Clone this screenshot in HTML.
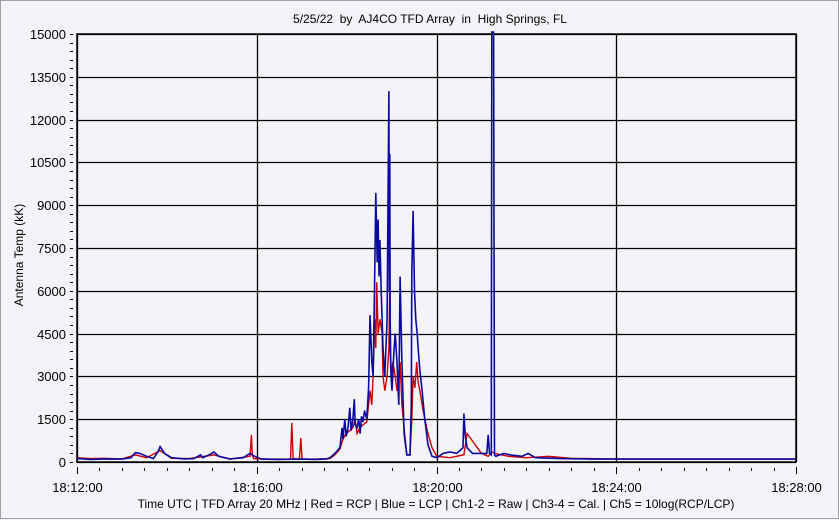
<!DOCTYPE html>
<html><head><meta charset="utf-8"><style>
html,body{margin:0;padding:0;background:#f4f4f8;}
#wrap{position:relative;width:839px;height:520px;overflow:hidden;background:#f4f4f8;}
svg{position:absolute;left:0;top:0;font-family:"Liberation Sans",sans-serif;}
text{white-space:pre;}
</style></head><body>
<div id="wrap">
<svg id="chart" width="839" height="520">
<rect x="0.5" y="0.5" width="838" height="518" fill="#f4f4f8" stroke="#a0a0a0"/>
<text x="430" y="23" font-size="12" text-anchor="middle" fill="#000">5/25/22  by  AJ4CO TFD Array  in  High Springs, FL</text>
<text transform="translate(23,255) rotate(-90)" font-size="12" text-anchor="middle" fill="#000">Antenna Temp (kK)</text>
<text x="436" y="508" font-size="12" text-anchor="middle" fill="#000">Time UTC | TFD Array 20 MHz | Red = RCP | Blue = LCP | Ch1-2 = Raw | Ch3-4 = Cal. | Ch5 = 10log(RCP/LCP)</text>
<g id="grid"></g><g id="series"></g><g id="axes"></g>
</svg>
</div>
<script>
const yTicks=[0,1500,3000,4500,6000,7500,9000,10500,12000,13500,15000];
const xTickLabels=["18:12:00","18:16:00","18:20:00","18:24:00","18:28:00"];
const xTickMinutes=[0,4,8,12,16];
const blueT=[0,0.3,0.6,1.0,1.2,1.3,1.4,1.55,1.7,1.8,
1.85,1.95,2.1,2.4,2.6,2.75,2.8,2.95,3.05,3.15,
3.4,3.7,3.85,3.95,4.1,4.5,5.0,5.3,5.55,5.63,
5.74,5.85,5.9,5.92,5.96,5.99,6.03,6.07,6.1,6.14,
6.17,6.19,6.23,6.27,6.30,6.33,6.36,6.40,6.45,6.49,
6.52,6.56,6.59,6.62,6.65,6.68,6.70,6.72,6.74,6.77,
6.79,6.81,6.85,6.90,6.94,6.95,6.96,6.97,6.99,7.01,
7.05,7.08,7.12,7.16,7.19,7.23,7.28,7.34,7.41,7.44,
7.45,7.48,7.51,7.54,7.57,7.59,7.63,7.68,7.74,7.81,
7.90,8.01,8.15,8.30,8.45,8.59,8.61,8.64,8.68,8.8,
8.97,9.12,9.15,9.18,9.22,9.23,9.27,9.29,9.32,9.5,
9.64,9.9,10.04,10.2,10.75,11.5,12,13,14,15,16];
const blueV=[120,90,110,100,150,330,300,200,120,350,
540,300,150,110,120,250,150,260,350,200,
110,150,300,200,100,90,100,90,110,150,
300,500,1200,800,1500,900,1200,1900,1100,1500,
2200,1300,1200,1500,1000,1600,1400,1800,1500,2600,
5150,3500,3000,6000,9430,7000,8500,6500,7780,6000,
5000,4000,3000,5000,13000,6000,10800,4000,3000,2500,
3800,4500,3500,2000,6500,3500,1000,250,250,2000,
6600,8800,6000,5000,4500,4000,3200,2500,1500,600,
200,150,300,350,300,500,1700,900,500,300,
300,300,950,300,250,15500,15500,250,200,300,
250,200,300,150,120,100,100,100,100,100,100];
const redT=[0,0.3,0.6,1.0,1.3,1.55,1.85,2.1,2.5,3.05,3.4,3.85,3.88,3.9,3.93,4.2,4.75,4.78,4.81,4.95,4.98,5.01,5.3,5.63,5.74,5.85,5.92,5.99,6.07,6.14,6.19,6.23,6.30,6.36,6.45,6.52,6.56,6.59,6.63,6.65,6.67,6.70,6.74,6.79,6.81,6.85,6.90,6.94,6.96,6.99,7.03,7.08,7.12,7.16,7.19,7.23,7.28,7.34,7.41,7.45,7.48,7.52,7.56,7.59,7.63,7.68,7.74,7.81,7.90,8.01,8.3,8.59,8.61,8.68,9.0,9.15,9.23,9.3,9.6,10.0,10.5,11,12,13,14,15,16];
const redV=[150,120,130,110,250,150,400,130,120,250,100,200,950,250,120,100,100,1370,120,100,840,100,100,120,250,450,800,1000,1100,1200,1500,1000,1200,1300,1400,2500,2000,3000,5000,4000,6300,4500,5000,4500,3000,2500,3000,4000,6200,3000,3500,3000,2500,3000,3500,2000,1200,250,250,1500,3000,2600,3500,2800,2500,2000,1500,1000,500,200,150,250,250,1000,300,200,350,300,200,150,200,130,110,100,100,100,100];
const X0=77,X1=796,Y0=462,Y1=34,TMAX=16,VMAX=15000;
const xs=t=>X0+(t/TMAX)*(X1-X0);
const ys=v=>Math.max(Y1-2,Y0-(v/VMAX)*(Y0-Y1));
const NS="http://www.w3.org/2000/svg";
const grid=document.getElementById('grid'),axes=document.getElementById('axes'),series=document.getElementById('series');
function mk(tag,attrs,parent){const e=document.createElementNS(NS,tag);for(const k in attrs)e.setAttribute(k,attrs[k]);parent.appendChild(e);return e;}
const bg=mk('rect',{x:X0,y:Y1,width:X1-X0,height:Y0-Y1,fill:'#f4f4f8',stroke:'#000','stroke-width':1.5},grid);


yTicks.forEach(v=>{
  const y=Math.round(ys(v))+0.5;
  const l=mk('line',{x1:X0,x2:X1,y1:y,y2:y,stroke:'#000','stroke-width':1.3},grid);
  
  
  const t=mk('text',{x:66,y:y+4.5,'font-size':13,'text-anchor':'end',fill:'#000'},axes);
  t.textContent=v;
  
  
});
for(let v=0;v<=VMAX;v+=300){
  const y=Math.round(ys(v))+0.5;
  const m=mk('line',{x1:70,x2:73,y1:y,y2:y,stroke:'#000','stroke-width':1},axes);
  
  
}
xTickMinutes.forEach((m,i)=>{
  const x=Math.round(xs(m))+0.5;
  const l=mk('line',{x1:x,x2:x,y1:Y1,y2:Y0,stroke:'#000','stroke-width':1.3},grid);
  
  
  const t=mk('text',{x:x,y:492,'font-size':13,'text-anchor':'middle',fill:'#000'},axes);
  t.textContent=xTickLabels[i];
  
  
});
for(let m=0;m<=TMAX;m+=0.5){
  const x=Math.round(xs(m))+0.5;const major=(m%4===0);
  const tk=mk('line',{x1:x,x2:x,y1:major?467:468,y2:major?474:471,stroke:'#000','stroke-width':1},axes);
  
  
}
function path(T,V){return T.map((t,i)=>(i?'L':'M')+xs(t).toFixed(1)+','+ys(V[i]).toFixed(1)).join('');}
const rp=mk('path',{d:path(redT,redV),fill:'none',stroke:'#cc0000','stroke-width':1.4},series);


const bp=mk('path',{d:path(blueT,blueV),fill:'none',stroke:'#0a0aa0','stroke-width':1.6},series);


</script>
</body></html>
